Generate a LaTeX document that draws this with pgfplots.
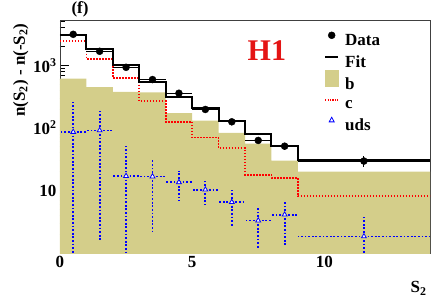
\documentclass[border=0pt]{standalone}
\usepackage{fontspec}
\setmainfont{Liberation Serif}
\usepackage{pgfplots}
\pgfplotsset{compat=1.18}
\definecolor{bfill}{RGB}{212,206,138}
\definecolor{hred}{RGB}{228,20,20}
\newcommand\f{\fontsize{17}{20}\selectfont\bfseries}
\begin{document}
\begin{tikzpicture}
\begin{axis}[
  name=ax, scale only axis, width=370pt, height=233pt,
  ymode=log, xmin=0, xmax=14, ymin=1, ymax=5300,
  xtick={0,5,10}, minor xtick={1,2,3,4,6,7,8,9,11,12,13,14},
  ytick={10,100,1000}, yticklabels={10,10\textsuperscript{2},10\textsuperscript{3}},
  minor ytick={2,3,4,5,6,7,8,9,20,30,40,50,60,70,80,90,200,300,400,500,600,700,800,900,2000,3000,4000,5000},
  tick align=inside, tick pos=left,
  major tick length=9pt, minor tick length=5pt,
  tick style={black, line width=0.8pt},
  axis line style={black!75, line width=0.8pt},
  ticklabel style={font=\f},
  /pgf/number format/assume math mode=true,
  clip mode=individual,
  legend style={at={(rel axis cs:0.7135,0.979)}, anchor=north west, draw=none, fill=none,
    font=\f, inner sep=0pt, row sep=-3pt, column sep=4pt},
  legend cell align=left,
]
% b
\addplot[fill=bfill, draw=none, forget plot] coordinates {(0,0.5)(0,612)(1,612)(1,450)(2,450)(2,375)(3,375)(3,370)(4,370)(4,172)(5,172)(5,130)(6,130)(6,83)(7,83)(7,56)(8,56)(8,30)(9,30)(9,20)(14,20)(14,0.5)} -- cycle;
% c
\addplot[const plot, red, dash pattern=on 1.5pt off 1.5pt, line width=1.8pt, forget plot] coordinates {(0,2450)(1,1280)(2,636)(3,267)(4,125)(5,70)(6,47)(7,17.8)(8,16)(9,8.1)(14,8.1)};
% uds
\addplot[only marks, mark=triangle*, mark size=2.8pt, mark options={solid, draw=blue, fill=white, line width=0.8pt}, forget plot,
  error bars/.cd, x dir=both, x explicit, y dir=both, y explicit, error mark=none,
  error bar style={blue, line width=1.8pt, dash pattern=on 1.8pt off 1.8pt}] coordinates {
  (0.5,86) += (0.5,173) -= (0.5,85.5)
  (1.5,91) += (0.5,99) -= (0.5,89.4)
  (2.5,17) += (0.5,35) -= (0.5,16.5)
  (3.5,16.7) += (0.5,15.3) -= (0.5,14.6)
  (4.5,13.5) += (0.5,7) -= (0.5,6.8)
  (5.5,10.3) += (0.5,4.2) -= (0.5,4.3)
  (6.5,6.5) += (0.5,4.1) -= (0.5,3.75)
  (7.5,3.3) += (0.5,2.0) -= (0.5,2.1)
  (8.5,4.1) += (0.5,2.6) -= (0.5,2.74)
  (11.5,1.84) += (2.5,2.06) -= (2.5,1.34)
};
% fit
\addplot[const plot, black, line width=2pt, forget plot] coordinates {(0,3076)(1,1800)(2,1026)(3,536)(4,313)(5,205)(6,131)(7,81)(8,50.6)(9,30.2)(14,30.2)};
% data
\addplot[only marks, mark=*, mark size=3.5pt, black, forget plot,
  error bars/.cd, x dir=both, x explicit, y dir=both, y explicit, error mark=none,
  error bar style={black, line width=0.9pt}] coordinates {
  (0.5,3130) +- (0.5,60)
  (1.5,1675) +- (0.5,40)
  (2.5,929) +- (0.5,30)
  (3.5,592) +- (0.5,22)
  (4.5,358) +- (0.5,16)
  (5.5,197) +- (0.5,12)
  (6.5,125) +- (0.5,9)
  (7.5,63) +- (0.5,6)
  (8.5,51) +- (0.5,6)
  (11.5,29.5) +- (2.5,5.5)
};
\addlegendimage{legend image code/.code={\path[draw=none,fill=none] (0pt,-4pt) rectangle (13pt,16pt); \fill[black] (6.5pt,5.8pt) circle (3.5pt);}}
\addlegendentry{Data}
\addlegendimage{legend image code/.code={\path[draw=none,fill=none] (0pt,-4pt) rectangle (13pt,16pt); \draw[black, line width=2pt] (0pt,5.8pt) -- (13pt,5.8pt);}}
\addlegendentry{Fit}
\addlegendimage{legend image code/.code={\path[draw=none,fill=none] (0pt,-4pt) rectangle (13pt,16pt); \fill[bfill] (0pt,-2.2pt) rectangle (13pt,13.8pt);}}
\addlegendentry{b}
\addlegendimage{legend image code/.code={\path[draw=none,fill=none] (0pt,-4pt) rectangle (13pt,16pt); \draw[red, line width=1.4pt, dash pattern=on 1.2pt off 1.2pt] (0pt,5.8pt) -- (13pt,5.8pt);}}
\addlegendentry{c}
\addlegendimage{legend image code/.code={\path[draw=none,fill=none] (0pt,-4pt) rectangle (13pt,16pt); \draw[blue, line width=0.8pt, fill=white] (4pt,3.6pt) -- (9pt,3.6pt) -- (6.5pt,8.2pt) -- cycle;}}
\addlegendentry{uds}
\node[font=\fontsize{30}{34}\selectfont\bfseries, text=hred] at (rel axis cs:0.559,0.867) {H1};
\node[font=\f, anchor=base west] at ([xshift=8pt,yshift=7pt]rel axis cs:0,1) {(f)};
\node[font=\f, anchor=north east] at ([yshift=-25pt]rel axis cs:1,0) {S\textsubscript{2}};
\node[font=\f, rotate=90, anchor=south east] at ([xshift=-28pt]rel axis cs:0,1) {n(S\textsubscript{2}) - n(-S\textsubscript{2})};
\end{axis}
\pgfresetboundingbox
\path ([xshift=-60pt,yshift=-48pt]ax.south west) rectangle ([xshift=1pt,yshift=20pt]ax.north east);
\end{tikzpicture}
\end{document}
